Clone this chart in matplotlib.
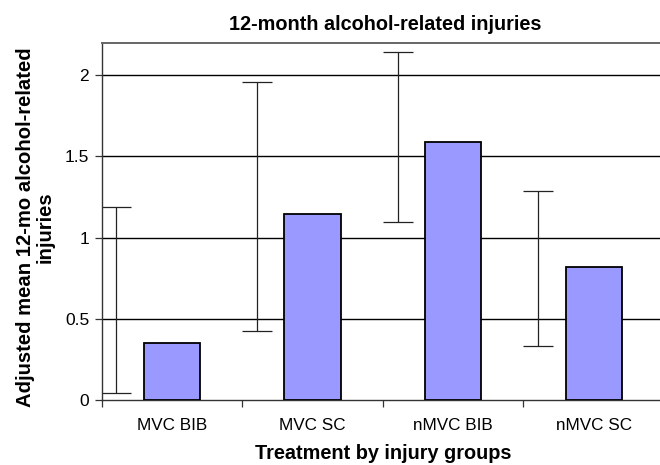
import numpy as np
import matplotlib
matplotlib.use("Agg")
import matplotlib.pyplot as plt
from matplotlib.ticker import FixedLocator, NullFormatter


GROUPS = ["MVC BIB", "MVC SC", "nMVC BIB", "nMVC SC"]
MEANS = [0.35, 1.143, 1.588, 0.817]
CI_LOW = [0.045, 0.425, 1.095, 0.332]
CI_HIGH = [1.19, 1.955, 2.143, 1.284]
Y_TICKS = [0, 0.5, 1, 1.5, 2]
Y_TICK_LABELS = ["0", "0.5", "1", "1.5", "2"]


def main():
    plt.rcParams["font.family"] = ["Liberation Sans", "DejaVu Sans"]
    fig = plt.figure(figsize=(6.6, 4.65), dpi=100)
    ax = fig.add_axes([0.154, 0.1398, 0.852, 0.7684])

    x = np.arange(len(GROUPS))
    means = np.array(MEANS)
    lo = np.array(CI_LOW)
    hi = np.array(CI_HIGH)

    ax.set_ylim(0, 2.2)
    ax.set_xlim(-0.5, len(GROUPS) - 0.5)

    for yv in Y_TICKS[1:]:
        ax.axhline(yv, color="black", linewidth=1.0, zorder=1)

    ax.bar(x, means, width=0.4, color="#9999ff", edgecolor="black",
           linewidth=1.3, zorder=3)

    # error bars sit to the left of each bar
    mid = (lo + hi) / 2
    half = (hi - lo) / 2
    ax.errorbar(x - 0.395, mid, yerr=half, fmt="none", ecolor="#222222",
                elinewidth=0.9, capsize=11, capthick=0.9, zorder=2)

    ax.set_yticks(Y_TICKS)
    ax.set_yticklabels(Y_TICK_LABELS, fontsize=12.5)
    ax.tick_params(axis="y", length=5, width=0.9, color="#333333", pad=4)

    ax.set_xticks(x)
    ax.set_xticklabels(GROUPS, fontsize=12.3)
    ax.tick_params(axis="x", which="major", length=0, pad=13)
    ax.xaxis.set_minor_locator(FixedLocator(np.arange(len(GROUPS) + 1) - 0.5))
    ax.xaxis.set_minor_formatter(NullFormatter())
    ax.tick_params(axis="x", which="minor", length=5, width=0.9, color="#333333")

    for side in ["left", "bottom"]:
        ax.spines[side].set_color("#333333")
        ax.spines[side].set_linewidth(1.0)
    ax.spines["top"].set_color("#666666")
    ax.spines["top"].set_linewidth(1.4)
    ax.spines["right"].set_visible(False)

    fig.text(0.583, 0.947, "12-month alcohol-related injuries", ha="center",
             va="center", fontsize=14.3, fontweight="bold")
    ax.set_xlabel("Treatment by injury groups", fontsize=14.3,
                  fontweight="bold", labelpad=8)
    ax.set_ylabel("Adjusted mean 12-mo alcohol-related\ninjuries", fontsize=14.6,
                  fontweight="bold", linespacing=1.05)
    ax.yaxis.set_label_coords(-0.083, 0.485)

    fig.savefig("out.png", dpi=100)
    plt.close(fig)


if __name__ == "__main__":
    main()
